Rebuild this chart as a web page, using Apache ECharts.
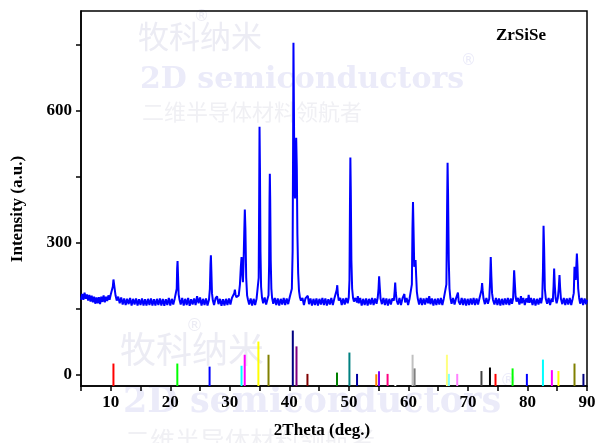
<!DOCTYPE html>
<html><head><meta charset="utf-8">
<script src="https://cdn.jsdelivr.net/npm/echarts@6/dist/echarts.min.js"></script>
<style>html,body{margin:0;padding:0;background:#fff}#c{width:600px;height:443px}</style>
</head><body><div id="c"></div>
<script>
const scanA = [[5.0,170],[5.2,183],[5.4,170],[5.6,186],[5.8,172],[6.0,182],[6.2,168],[6.4,181],[6.6,166],[6.8,179],[7.0,164],[7.2,177],[7.4,161],[7.6,175],[7.8,162],[8.0,176],[8.2,160],[8.4,177],[8.6,165],[8.8,180],[9.0,164],[9.2,177],[9.4,167],[9.6,180],[9.8,170],[10.0,182],
 [10.2,186],[10.35,200],[10.45,216],[10.55,218],[10.65,195],[10.8,180],
 [11.0,168],[11.25,177],[11.5,162],[11.75,175],[12.0,159],[12.25,173],[12.5,158],[12.75,172],[13.0,160],[13.25,174],[13.5,157],[13.75,172],[14.0,159],[14.25,173],[14.5,157],[14.75,171],[15.0,158],[15.25,173],[15.5,157],[15.75,171],[16.0,157],[16.25,172],[16.5,158],[16.75,173],[17.0,157],[17.25,171],[17.5,157],[17.75,172],[18.0,158],[18.25,173],[18.5,157],[18.75,172],[19.0,156],[19.25,171],[19.5,158],[19.75,174],[20.0,157],[20.25,172],[20.5,159],[20.75,173]];
const scanB = [[20.95,174],[21.08,195],[21.15,240],[21.22,258],[21.3,225],[21.4,182],[21.55,170],
 [21.75,159],[22.0,174],[22.25,157],[22.5,172],[22.75,158],[23.0,174],[23.25,156],[23.5,171],[23.75,159],[24.0,173],[24.25,158],[24.5,178],[24.75,162],[25.0,175],[25.25,157],[25.5,172],[25.75,158],[26.0,173],[26.25,157],
 [26.5,170],[26.65,195],[26.75,250],[26.82,271],[26.9,235],[27.0,185],[27.15,168],
 [27.35,158],[27.6,173],[27.85,178],[28.1,160],[28.35,172],[28.6,156],[28.85,171],[29.1,157],[29.35,172],[29.6,158],[29.85,173],[30.1,159],[30.35,174],
 [30.55,174],[30.75,185],[30.85,193],[30.95,182],[31.1,176],[31.3,172],[31.5,180],[31.7,205],[31.85,245],[31.97,267],[32.07,235],[32.2,210],[32.3,250],[32.42,320],[32.52,375],[32.62,330],[32.75,220],[32.9,180],[33.05,170],
 [33.25,159],[33.5,173],[33.75,157],[34.0,172],[34.25,158],[34.5,173],
 [34.7,175],[34.85,220],[34.93,400],[34.99,563],[35.06,470],[35.15,280],[35.25,200],[35.4,175],[35.6,162],[35.85,175],[36.1,159],[36.35,173],
 [36.5,180],[36.6,250],[36.67,400],[36.72,456],[36.78,400],[36.87,260],[36.98,195],[37.1,174],[37.3,161],
 [37.55,174],[37.8,158],[38.05,173],[38.3,157],[38.55,172],[38.8,159],[39.05,174],[39.3,158],[39.55,173],[39.8,160],[40.05,175]];
const scanC = [[40.25,178],[40.42,195],[40.55,280],[40.63,520],[40.69,754],[40.76,620],[40.85,430],[40.95,400],[41.05,470],[41.15,538],[41.25,470],[41.35,320],[41.48,230],[41.62,190],[41.78,175],[41.95,168],
 [42.2,174],[42.45,158],[42.7,173],[42.95,177],[43.1,179],[43.3,160],[43.55,173],[43.8,157],[44.05,172],[44.3,158],[44.55,173],[44.8,157],[45.05,172],[45.3,159],[45.55,174],[45.8,158],[46.05,173],[46.3,157],[46.55,171],[46.8,159],[47.05,174],[47.3,158],[47.55,172],
 [47.8,172],[47.95,192],[48.05,203],[48.15,182],[48.3,168],
 [48.55,174],[48.8,158],[49.05,173],[49.3,159],[49.55,174],[49.8,162],
 [49.98,175],[50.1,215],[50.18,380],[50.25,493],[50.32,420],[50.42,260],[50.55,195],[50.7,174],[50.85,166],
 [51.1,174],[51.35,164],[51.5,178],[51.65,162],[51.9,174],[52.15,157],[52.4,172],[52.65,158],[52.9,173],[53.15,157],[53.4,172],[53.65,159],[53.9,174],[54.15,158],[54.4,173],[54.65,161],
 [54.85,175],[54.98,195],[55.08,223],[55.18,200],[55.32,172],
 [55.55,160],[55.8,174],[56.05,158],[56.3,173],[56.55,157],[56.8,172],[57.05,159],[57.3,173],
 [57.55,168],[57.68,188],[57.78,209],[57.88,186],[58.02,169],
 [58.25,159],[58.5,174],[58.75,158],[59.0,173],[59.2,176],[59.32,183],[59.45,164],[59.7,174],[59.95,158],[60.2,173]];
const scanD = [[60.45,172],[60.58,205],[60.68,330],[60.77,392],[60.86,330],[60.98,245],[61.1,255],[61.2,260],[61.3,225],[61.42,188],[61.58,172],
 [61.8,159],[62.05,174],[62.3,158],[62.55,173],[62.8,159],[63.05,174],[63.3,162],[63.5,178],[63.7,160],[63.95,173],[64.2,157],[64.45,172],[64.7,158],[64.95,173],[65.2,159],[65.45,174],[65.7,158],[65.95,173],
 [66.2,172],[66.38,205],[66.5,380],[66.58,481],[66.66,410],[66.78,260],[66.9,195],[67.05,174],[67.25,161],
 [67.5,174],[67.75,159],[68.0,173],[68.2,177],[68.32,186],[68.45,166],[68.7,159],[68.95,174],[69.2,158],[69.45,173],[69.7,157],[69.95,172],[70.2,158],[70.45,173],[70.7,159],[70.95,174],[71.2,158],[71.45,173],[71.7,159],[71.95,174],
 [72.15,172],[72.28,192],[72.38,208],[72.48,190],[72.62,172],
 [72.85,160],[73.1,174],[73.35,161],
 [73.58,172],[73.72,212],[73.83,267],[73.93,225],[74.05,185],[74.2,170],
 [74.45,159],[74.7,174],[74.95,158],[75.2,173],[75.45,157],[75.7,172],[75.95,158],[76.2,173],[76.45,159],[76.7,174],[76.95,158],[77.2,173],[77.4,161]];
const scanE = [[77.58,172],[77.68,205],[77.76,237],[77.86,212],[78.0,178],[78.15,166],
 [78.4,174],[78.65,159],[78.9,178],[79.05,162],[79.3,174],[79.55,158],[79.8,173],[80.05,164],[80.2,181],[80.35,163],[80.6,174],[80.85,158],[81.1,173],[81.35,157],[81.6,172],[81.85,159],[82.1,174],[82.3,162],
 [82.48,175],[82.6,235],[82.7,338],[82.8,285],[82.92,195],[83.08,172],[83.3,161],
 [83.55,174],[83.8,158],[84.05,173],[84.25,165],
 [84.38,200],[84.48,241],[84.58,205],[84.72,174],[84.9,162],[85.1,174],
 [85.25,195],[85.38,226],[85.48,198],[85.62,172],[85.85,160],
 [86.1,174],[86.35,158],[86.6,173],[86.85,159],[87.1,174],[87.35,158],[87.6,173],
 [87.78,185],[87.9,245],[88.0,225],[88.1,215],[88.2,245],[88.3,275],[88.4,245],[88.52,195],[88.68,174],[88.85,161],
 [89.1,174],[89.35,158],[89.6,173],[89.85,160],[90.0,170]];

// ---- reference pattern sticks ----
const refAngles  = [10.45,21.18,26.6,31.97,32.5,34.8,36.5,40.58,41.2,43.04,48.0,50.09,51.37,54.6,55.06,56.5,57.8,60.7,61.04,66.47,66.8,68.2,72.27,73.7,74.63,77.5,79.9,82.6,84.1,85.2,87.9,89.4];
const refHeights = [25,25,18,20,45,75,45,100,64,1.5,4.5,50,1.5,0.7,7.5,1.5,-22,45,14,45,1.5,1.5,8,16,1.5,14,1.5,34,10,8,25,1.5];
// Origin default colour cycle (style)
const refColors = ['#ff0000','#00ff00','#0000ff','#00ffff','#ff00ff','#ffff00','#808000','#000080','#800080','#800000','#008000','#008080','#0000a0','#ff8000','#8000ff','#ff0080','#ffffff','#c0c0c0','#808080','#ffff80','#80ffff','#ff80ff','#404040','#000000','#ff0000','#00ff00','#0000ff','#00ffff','#ff00ff','#ffff00','#808000','#000080'];

const xLabelValues = [10,20,30,40,50,60,70,80,90];
const yLabelValues = [0,300,600];
const yTickValues  = [0,150,300,450,600,750];
const sampleName = 'ZrSiSe';
const xName = '2Theta (deg.)';
const yName = 'Intensity (a.u.)';

const scan = [].concat(scanA, scanB, scanC, scanD, scanE);
const X_MIN = 5, X_MAX = 90, Y_MIN = -26, Y_MAX = 826;
const serif = '"Liberation Serif","Times New Roman",serif';
const wmC = '#ececf4', wmE = '#ebebf9', wmS = '#f0f0f4';

const chart = echarts.init(document.getElementById('c'), null, {renderer: 'canvas'});
chart.setOption({
  animation: false,
  backgroundColor: '#fff',
  grid: {left: 81, right: 13, top: 11, bottom: 57, show: true, borderColor: '#000', borderWidth: 1.5, backgroundColor: 'transparent'},
  xAxis: {
    type: 'value', min: X_MIN, max: X_MAX, interval: 5,
    axisLine: {onZero: false, lineStyle: {color: '#000', width: 1.5}},
    axisTick: {length: 5, lineStyle: {color: '#000', width: 1.5}},
    axisLabel: {formatter: v => xLabelValues.indexOf(v) >= 0 ? String(v) : '', fontFamily: serif, fontWeight: 'bold', fontSize: 17, color: '#000', margin: 8},
    splitLine: {show: false}
  },
  yAxis: {
    type: 'value', min: Y_MIN, max: Y_MAX,
    axisLine: {show: true, onZero: false, lineStyle: {color: '#000', width: 1.5}},
    axisTick: {show: true, customValues: yTickValues, length: 5, lineStyle: {color: '#000', width: 1.5}},
    axisLabel: {customValues: yLabelValues, fontFamily: serif, fontWeight: 'bold', fontSize: 17, color: '#000', margin: 9},
    splitLine: {show: false}
  },
  series: [
    {type: 'line', data: scan, symbol: 'none', showSymbol: false, lineStyle: {color: '#0000ff', width: 2}, z: 3},
    {type: 'custom', z: 4,
     data: refAngles.map((a, i) => [a, refHeights[i], i]),
     encode: {x: 0, y: 1},
     renderItem: (params, api) => {
       const b = api.coord([api.value(0), Y_MIN]);
       const t = api.coord([api.value(0), api.value(1)]);
       return {type: 'line', shape: {x1: b[0], y1: b[1], x2: t[0], y2: t[1]},
               style: {stroke: refColors[api.value(2)], lineWidth: 2}};
     }}
  ],
  graphic: [
    {type: 'text', z: -1, x: 138, y: 36, style: {text: '牧科纳米', font: '31px "Noto Sans CJK SC"', fill: wmC, textVerticalAlign: 'middle'}},
    {type: 'text', z: -1, x: 194, y: 17, style: {text: '®', font: '15px "DejaVu Sans"', fill: wmC, textVerticalAlign: 'middle'}},
    {type: 'text', z: -1, x: 140, y: 80, style: {text: '2D semiconductors', font: 'bold 30px "DejaVu Serif"', fill: wmE, textVerticalAlign: 'middle'}},
    {type: 'text', z: -1, x: 461, y: 61, style: {text: '®', font: '15px "DejaVu Sans"', fill: wmE, textVerticalAlign: 'middle'}},
    {type: 'text', z: -1, x: 142, y: 112, style: {text: '二维半导体材料领航者', font: '22px "Noto Sans CJK SC"', fill: wmS, textVerticalAlign: 'middle'}},
    {type: 'text', z: -1, x: 120, y: 349, style: {text: '牧科纳米', font: '36px "Noto Sans CJK SC"', fill: wmC, textVerticalAlign: 'middle'}},
    {type: 'text', z: -1, x: 186, y: 327, style: {text: '®', font: '17px "DejaVu Sans"', fill: wmC, textVerticalAlign: 'middle'}},
    {type: 'text', z: -1, x: 123, y: 403, style: {text: '2D semiconductors', font: 'bold 35px "DejaVu Serif"', fill: wmE, textVerticalAlign: 'middle'}},
    {type: 'text', z: -1, x: 500, y: 382, style: {text: '®', font: '17px "DejaVu Sans"', fill: wmE, textVerticalAlign: 'middle'}},
    {type: 'text', z: -1, x: 125, y: 440, style: {text: '二维半导体材料领航者', font: '25px "Noto Sans CJK SC"', fill: wmS, textVerticalAlign: 'middle'}},
    {type: 'text', z: 100, x: 521, y: 36, style: {text: sampleName, font: 'bold 17px "Liberation Serif"', fill: '#000', textAlign: 'center', textVerticalAlign: 'middle'}},
    {type: 'text', z: 100, x: 322, y: 431, style: {text: xName, font: 'bold 17px "Liberation Serif"', fill: '#000', textAlign: 'center', textVerticalAlign: 'middle'}},
    {type: 'text', z: 100, x: 18, y: 209, rotation: Math.PI / 2, style: {text: yName, font: 'bold 17px "Liberation Serif"', fill: '#000', textAlign: 'center', textVerticalAlign: 'middle'}}
  ]
});
</script></body></html>
